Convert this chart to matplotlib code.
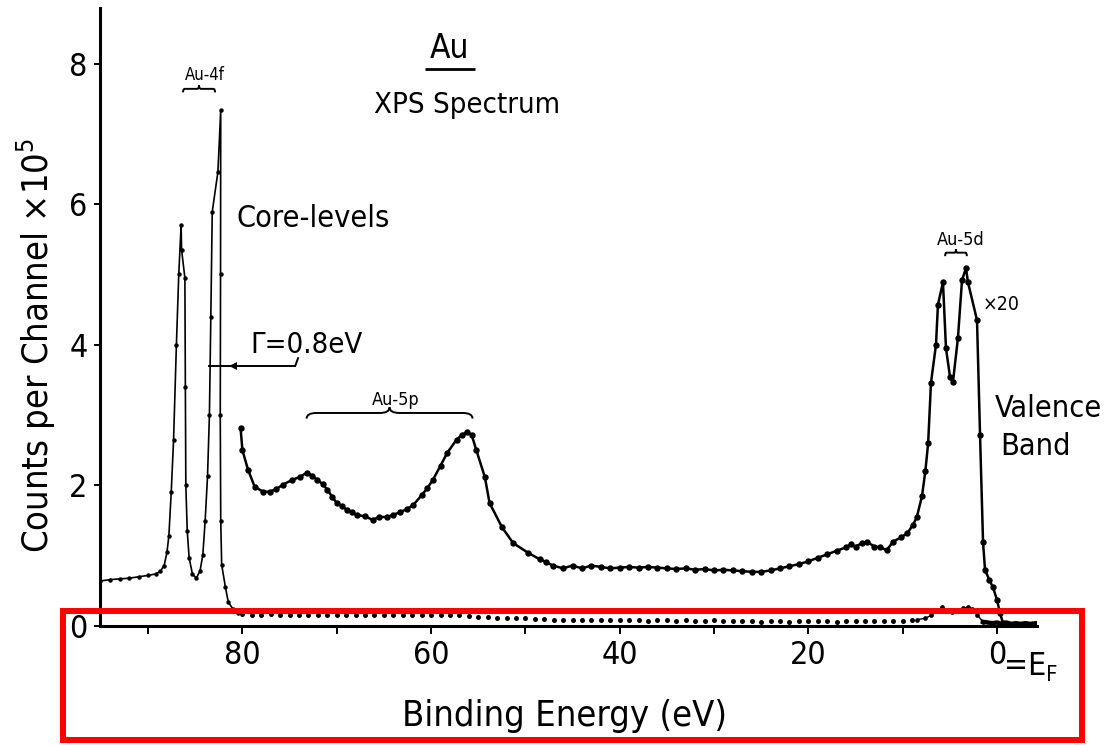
import matplotlib
matplotlib.use("Agg")
import matplotlib.pyplot as plt
from matplotlib import font_manager as fm
from matplotlib.patches import Rectangle, PathPatch
from matplotlib.path import Path

# ---------------------------------------------------------------- data
# Au-4f core levels, counts per channel (x 1e5) vs binding energy (eV)
core_energy = [95.1, 94.0, 93.0, 92.0, 91.0, 90.0, 89.2, 88.7, 88.3, 88.0,
               87.8, 87.55, 87.3, 87.0, 86.75, 86.5, 86.45, 86.1, 86.05, 86.0,
               85.85, 85.65, 85.3, 84.9, 84.5, 84.2, 83.95, 83.7, 83.5, 83.35,
               83.2, 82.6, 82.3, 82.32, 82.35, 82.3, 82.2, 81.8, 81.5, 81.0,
               80.45]
core_counts = [0.64, 0.66, 0.67, 0.68, 0.70, 0.72, 0.74, 0.78, 0.86, 1.05,
               1.28, 1.90, 2.65, 4.00, 5.00, 5.70, 5.35, 4.95, 3.40, 2.00,
               1.35, 0.97, 0.74, 0.68, 0.78, 1.01, 1.50, 2.13, 3.00, 4.40,
               5.89, 6.46, 7.34, 5.00, 3.00, 1.50, 0.87, 0.55, 0.34, 0.24,
               0.18]

# Au-5p and valence band region, scaled x20
shallow_energy = [80.2, 80.0, 79.4, 78.7, 77.8, 77.1, 76.4, 75.7, 74.7, 73.9,
                  73.2, 72.6, 72.1, 71.5, 71.0, 70.5, 70.0, 69.4, 68.9, 68.4,
                  67.9, 67.0, 66.2, 65.5, 64.7, 64.0, 63.3, 62.6, 61.9, 61.0,
                  60.4, 59.8, 59.0, 58.3, 57.3, 56.7, 56.2, 55.7, 55.2, 54.3,
                  53.8, 52.5, 51.3, 49.7, 48.5, 47.8, 47.1, 46.0, 45.0, 44.0,
                  43.0, 42.0, 41.0, 40.0, 39.0, 38.0, 37.0, 36.0, 35.0, 34.0,
                  33.0, 32.0, 31.0, 30.0, 29.0, 28.0, 27.0, 26.0, 25.0, 24.0,
                  23.0, 22.0, 21.0, 20.0, 19.0, 18.0, 17.0, 16.0, 15.5, 15.0,
                  14.3, 13.8, 13.0, 12.4, 11.7, 11.0, 10.2, 9.5, 8.9, 8.5,
                  7.95, 7.6, 7.3, 7.0, 6.47, 6.26, 5.73, 5.41, 4.98, 4.67,
                  4.14, 3.71, 3.29, 3.08, 2.12, 1.80, 1.48, 1.27, 0.80, 0.42,
                  0.0, -0.32, -0.64]
shallow_counts = [2.82, 2.50, 2.22, 1.98, 1.91, 1.91, 1.95, 2.01, 2.08, 2.12,
                  2.18, 2.14, 2.08, 2.02, 1.94, 1.84, 1.75, 1.70, 1.65, 1.62,
                  1.58, 1.56, 1.51, 1.55, 1.55, 1.58, 1.62, 1.66, 1.72, 1.86,
                  1.96, 2.08, 2.28, 2.46, 2.65, 2.72, 2.76, 2.72, 2.50, 2.12,
                  1.75, 1.41, 1.18, 1.04, 0.95, 0.91, 0.86, 0.82, 0.86, 0.82,
                  0.86, 0.84, 0.82, 0.83, 0.84, 0.83, 0.84, 0.83, 0.82, 0.81,
                  0.82, 0.80, 0.81, 0.79, 0.80, 0.79, 0.78, 0.77, 0.77, 0.79,
                  0.82, 0.85, 0.88, 0.92, 0.97, 1.02, 1.07, 1.12, 1.16, 1.13,
                  1.18, 1.20, 1.13, 1.12, 1.08, 1.20, 1.26, 1.32, 1.44, 1.55,
                  1.85, 2.20, 2.60, 3.46, 4.00, 4.57, 4.89, 3.95, 3.54, 3.47,
                  4.10, 4.92, 5.09, 4.89, 4.35, 2.72, 1.19, 0.80, 0.65, 0.55,
                  0.37, 0.18, 0.04]

# unscaled tail between the core levels and the Fermi edge
tail_energy = [80, 79, 78, 77, 76, 75, 74, 73, 72, 71, 70, 69, 68, 67, 66, 65,
               64, 63, 62, 61, 60, 59, 58, 57, 56, 55, 54, 53, 52, 51, 50, 49,
               48, 47, 46, 45, 44, 43, 42, 41, 40, 39, 38, 37, 36, 35, 34, 33,
               32, 31, 30, 29, 28, 27, 26, 25, 24, 23, 22, 21, 20, 19, 18, 17,
               16, 15, 14, 13, 12, 11, 10, 9]
tail_counts = [0.17, 0.16, 0.16, 0.17, 0.16, 0.16, 0.15, 0.16, 0.16, 0.16,
               0.15, 0.16, 0.16, 0.15, 0.16, 0.15, 0.15, 0.16, 0.15, 0.15,
               0.15, 0.16, 0.15, 0.16, 0.14, 0.13, 0.13, 0.12, 0.12, 0.11,
               0.11, 0.10, 0.10, 0.09, 0.09, 0.09, 0.09, 0.08, 0.09, 0.08,
               0.08, 0.08, 0.08, 0.07, 0.08, 0.08, 0.07, 0.08, 0.07, 0.07,
               0.08, 0.07, 0.07, 0.07, 0.07, 0.06, 0.07, 0.07, 0.06, 0.07,
               0.07, 0.07, 0.07, 0.06, 0.07, 0.07, 0.07, 0.07, 0.07, 0.07,
               0.07, 0.08]

# unscaled valence band near the Fermi edge
vb_energy = [8.5, 7.6, 7.0, 6.4, 5.8, 5.3, 4.8, 4.2, 3.6, 3.1, 2.6, 2.1, 1.5]
vb_counts = [0.09, 0.11, 0.15, 0.21, 0.27, 0.22, 0.20, 0.22, 0.25, 0.27,
             0.24, 0.16, 0.06]
edge_energy = [1.5, 1.0, 0.5, 0.0, -0.5, -1.0, -1.5, -2.0, -2.5, -3.0, -3.5, -4.2]
edge_counts = [0.06, 0.05, 0.04, 0.05, 0.03, 0.05, 0.03, 0.04, 0.03, 0.04, 0.03, 0.04]

x_ticks = [90, 80, 70, 60, 50, 40, 30, 20, 10, 0]
x_tick_labels = ["", "80", "", "60", "", "40", "", "20", "", "0"]
y_ticks = [0, 2, 4, 6, 8]
y_tick_labels = ["0", "2", "4", "6", "8"]

fwhm_level = 3.70        # half maximum of the Au-4f7/2 line
fwhm_left = 83.5
fwhm_right = 82.3

# ---------------------------------------------------------------- fonts
def narrow_font():
    entries = [(f.name, f.stretch) for f in fm.fontManager.ttflist]
    if any(n == "DejaVu Sans" and s == "condensed" for n, s in entries):
        return "DejaVu Sans", "condensed"
    if any(n == "Liberation Sans Narrow" for n, s in entries):
        return "Liberation Sans Narrow", "normal"
    return "DejaVu Sans", "normal"

fam, stretch = narrow_font()
plt.rcParams["font.family"] = [fam, "DejaVu Sans"]
plt.rcParams["font.stretch"] = stretch
plt.rcParams["mathtext.default"] = "regular"

# ---------------------------------------------------------------- figure
W, H = 1107, 745
fig = plt.figure(figsize=(W / 100, H / 100), dpi=100)
ax = fig.add_axes([100 / W, 1 - 626 / H, (1037 - 100) / W, (626 - 8) / H])
ax.set_xlim(95.1, -4.24)
ax.set_ylim(0, 8.79)

ink = "black"
ax.plot(core_energy, core_counts, "-", color=ink, lw=1.2,
        marker="o", ms=3.2, mew=0, zorder=3)
ax.plot(shallow_energy, shallow_counts, "-", color=ink, lw=1.8,
        marker="o", ms=4.6, mew=0, zorder=3)
ax.plot(tail_energy, tail_counts, "o", color=ink, ms=3.6, mew=0, zorder=3)
ax.plot(vb_energy, vb_counts, "-", color=ink, lw=1.0,
        marker="o", ms=3.4, mew=0, zorder=3)
ax.plot(edge_energy, edge_counts, "-", color=ink, lw=3.2, zorder=3)

# spines and ticks
for side in ("top", "right"):
    ax.spines[side].set_visible(False)
for side in ("left", "bottom"):
    ax.spines[side].set_linewidth(2.2)
ax.set_xticks(x_ticks)
ax.set_xticklabels(x_tick_labels)
ax.set_yticks(y_ticks)
ax.set_yticklabels(y_tick_labels)
ax.tick_params(axis="x", direction="out", length=6, width=1.4, pad=4,
               labelsize=23)
ax.tick_params(axis="y", direction="out", length=4, width=1.4, pad=5,
               labelsize=23)

# axis titles
fig.text(36 / W, 1 - 345 / H, "Counts per Channel \u00d710$^{5}$",
         rotation=90, ha="center", va="center", fontsize=26)
fig.text(565 / W, 1 - 726 / H, "Binding Energy (eV)",
         ha="center", va="baseline", fontsize=26)
fig.text(1004 / W, 1 - 675 / H, "=E", ha="left", va="baseline", fontsize=23)
fig.text(1046 / W, 1 - 681 / H, "F", ha="left", va="baseline", fontsize=16)

# titles and labels inside the frame
ax.text(58.0, 8.08, "Au", ha="center", va="baseline", fontsize=24)
ax.plot([60.66, 55.35], [7.92, 7.92], color=ink, lw=2.0, solid_capstyle="butt")
ax.text(56.2, 7.30, "XPS Spectrum", ha="center", va="baseline", fontsize=21)
ax.text(80.6, 5.68, "Core-levels", ha="left", va="baseline", fontsize=22)
ax.text(79.2, 3.88, "\u0393=0.8eV", ha="left", va="baseline", fontsize=21)
ax.text(84.0, 7.77, "Au-4f", ha="center", va="baseline", fontsize=12)
ax.text(63.8, 3.14, "Au-5p", ha="center", va="baseline", fontsize=13)
ax.text(3.8, 5.42, "Au-5d", ha="center", va="baseline", fontsize=13)
ax.text(1.5, 4.50, "\u00d720", ha="left", va="baseline", fontsize=14)
ax.text(0.2, 2.97, "Valence", ha="left", va="baseline", fontsize=22)
ax.text(-0.3, 2.43, "Band", ha="left", va="baseline", fontsize=22)

# FWHM marker on the Au-4f7/2 line
ax.plot([fwhm_left, 74.4], [fwhm_level, fwhm_level], color=ink, lw=1.4)
ax.plot([74.4, 74.1], [fwhm_level, fwhm_level + 0.11], color=ink, lw=1.4)
ax.plot([81.0], [fwhm_level], marker="<", color=ink, ms=6, mew=0)


def brace(x0, x1, y_line, depth):
    """Horizontal curly brace opening downward, tip pointing up."""
    xc = (x0 + x1) / 2
    d = (x1 - x0) * 0.06
    verts = [(x0, y_line - depth), (x0, y_line), (x0 + d, y_line),
             (xc - d, y_line), (xc, y_line), (xc, y_line + depth),
             (xc, y_line), (xc + d, y_line),
             (x1 - d, y_line), (x1, y_line), (x1, y_line - depth)]
    codes = [Path.MOVETO, Path.CURVE3, Path.CURVE3,
             Path.LINETO, Path.CURVE3, Path.CURVE3,
             Path.CURVE3, Path.CURVE3,
             Path.LINETO, Path.CURVE3, Path.CURVE3]
    ax.add_patch(PathPatch(Path(verts, codes), fill=False, ec=ink, lw=1.4))


brace(86.3, 82.9, 7.64, 0.05)
brace(73.2, 55.6, 3.03, 0.08)
brace(5.5, 3.2, 5.31, 0.05)

# highlight frame around the energy axis
fig.add_artist(Rectangle((63 / W, 1 - 740 / H), (1082 - 63) / W, (740 - 611) / H,
                         transform=fig.transFigure, fill=False,
                         ec="#ff0000", lw=4.3, zorder=20))

fig.savefig("out.png", dpi=100)
